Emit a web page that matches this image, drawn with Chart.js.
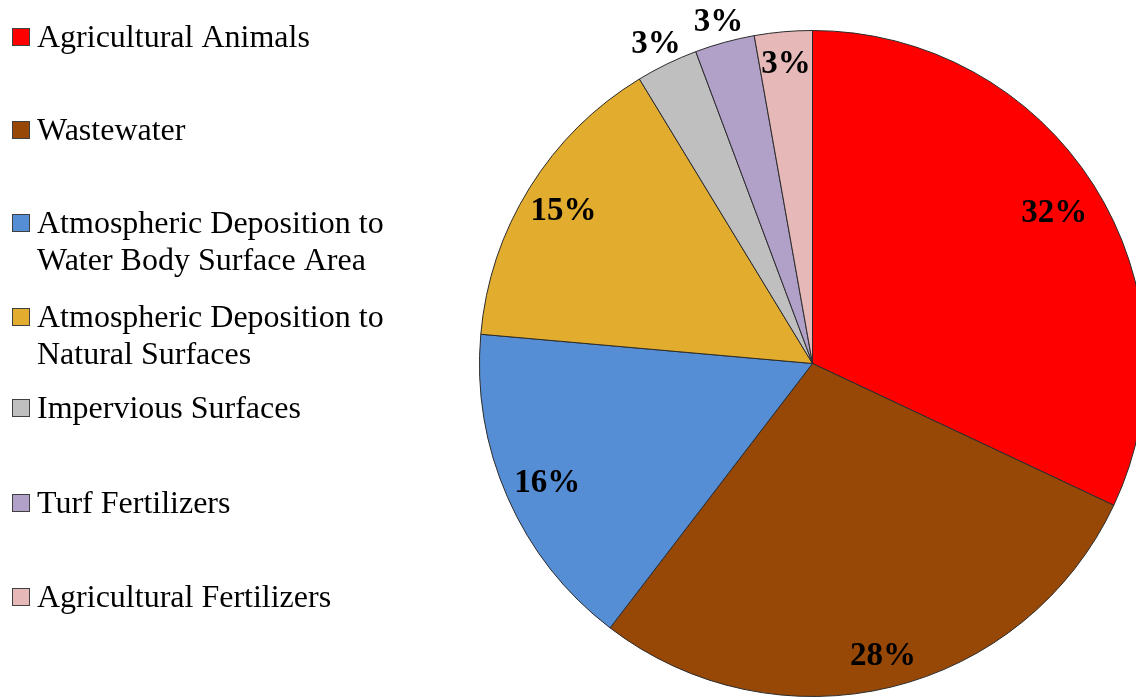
<!DOCTYPE html>
<html>
<head>
<meta charset="utf-8">
<script src="https://cdn.jsdelivr.net/npm/chart.js@4.4.0/dist/chart.umd.min.js"></script>
<style>
  html, body { margin: 0; padding: 0; background: #fff; overflow: hidden; }
  #wrap { width: 1160px; height: 698px; }
</style>
</head>
<body>
<div id="wrap"><canvas id="pieChart" width="1160" height="698"></canvas></div>
<script>
// sources of nitrogen load, share in percent
const categories = [
    "Agricultural Animals",
    "Wastewater",
    "Atmospheric Deposition to Water Body Surface Area",
    "Atmospheric Deposition to Natural Surfaces",
    "Impervious Surfaces",
    "Turf Fertilizers",
    "Agricultural Fertilizers"
];
const shares = [32, 28.4, 16, 14.9, 3, 2.9, 2.8];
// legend text as it wraps in the picture
const legendLines = [
    ["Agricultural Animals"],
    ["Wastewater"],
    ["Atmospheric Deposition to", "Water Body Surface Area"],
    ["Atmospheric Deposition to", "Natural Surfaces"],
    ["Impervious Surfaces"],
    ["Turf Fertilizers"],
    ["Agricultural Fertilizers"]
];
const sliceColors = ["#FF0000", "#974806", "#558ED5", "#E2AC2E", "#BFBFBF", "#B1A0C7", "#E6B9B8"];

// how far out (fraction of radius) each % label sits
const labelRadius = [0.86, 0.895, 0.87, 0.88, 1.075, 1.07, 0.91];
const legendBaselines = [47, 140, 233, 327, 418, 513, 607];

const pctLabels = {
    id: "pctLabels",
    afterDatasetsDraw(chart) {
        const ctx = chart.ctx;
        const arcs = chart.getDatasetMeta(0).data;
        ctx.save();
        ctx.font = "bold 33px 'Liberation Serif', 'Times New Roman', serif";
        ctx.fillStyle = "#000";
        ctx.textAlign = "center";
        ctx.textBaseline = "middle";
        arcs.forEach((arc, i) => {
            const mid = (arc.startAngle + arc.endAngle) / 2;
            const r = arc.outerRadius * labelRadius[i];
            const x = arc.x + Math.cos(mid) * r;
            const y = arc.y + Math.sin(mid) * r + 3;
            ctx.fillText(Math.round(shares[i]) + "%", x, y);
        });
        ctx.restore();
    }
};

const sideLegend = {
    id: "sideLegend",
    afterDraw(chart) {
        const ctx = chart.ctx;
        ctx.save();
        ctx.font = "32px 'Liberation Serif', 'Times New Roman', serif";
        ctx.textBaseline = "alphabetic";
        ctx.textAlign = "left";
        legendLines.forEach((lines, i) => {
            const base = legendBaselines[i];
            ctx.fillStyle = sliceColors[i];
            ctx.fillRect(13, base - 18, 17, 17);
            ctx.strokeStyle = "#404040";
            ctx.lineWidth = 1;
            ctx.strokeRect(12.5, base - 18.5, 17, 17);
            ctx.fillStyle = "#000";
            lines.forEach((t, j) => ctx.fillText(t, 37, base + j * 37));
        });
        ctx.restore();
    }
};

const chart = new Chart(document.getElementById("pieChart"), {
    type: "pie",
    data: {
        labels: categories,
        datasets: [{
            data: shares,
            backgroundColor: sliceColors,
            borderColor: "#2b2b2b",
            borderWidth: 1
        }]
    },
    options: {
        responsive: false,
        animation: false,
        layout: { padding: { left: 479, right: 14, top: 30, bottom: 1 } },
        plugins: {
            legend: { display: false },
            tooltip: { enabled: false }
        }
    },
    plugins: [pctLabels, sideLegend]
});
</script>
</body>
</html>
